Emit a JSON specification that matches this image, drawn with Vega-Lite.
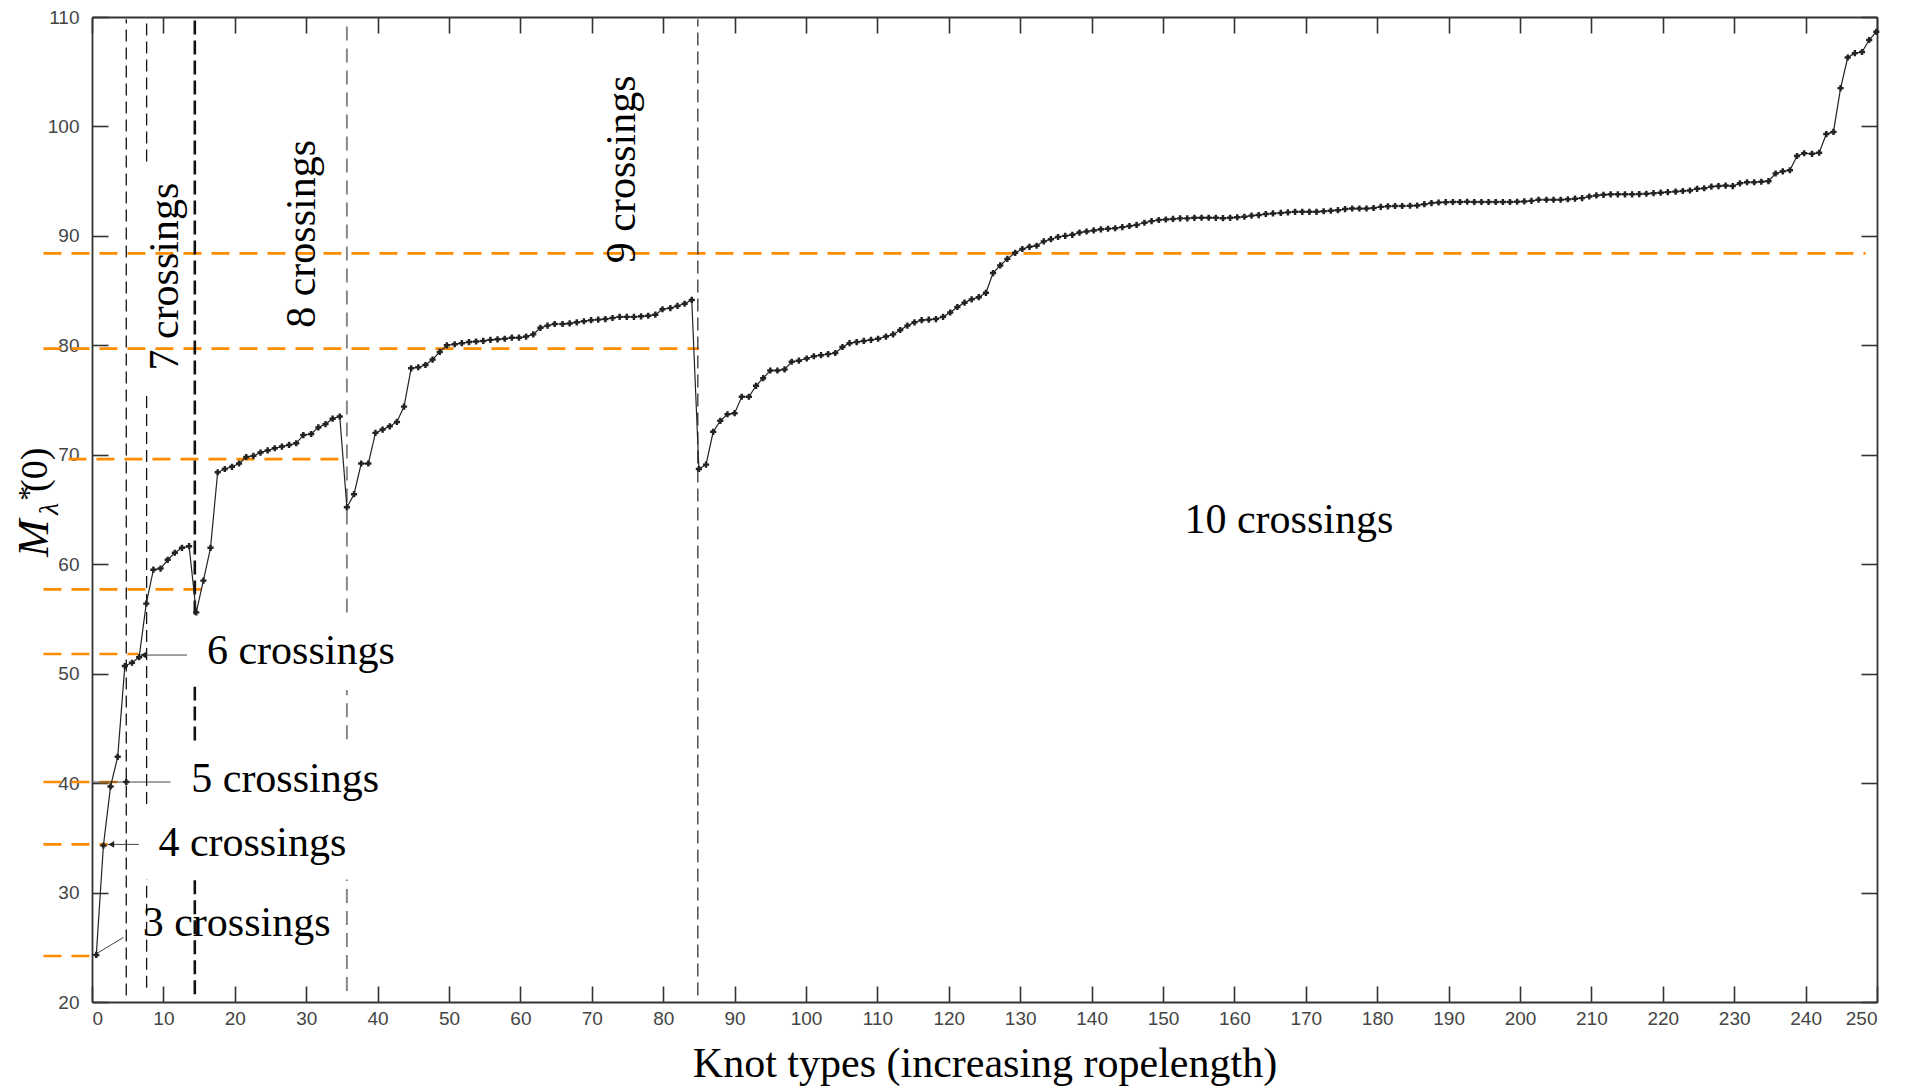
{
  "$schema": "https://vega.github.io/schema/vega-lite/v6.json",
  "width": 1785,
  "height": 985,
  "autosize": {"type": "none"},
  "padding": {"left": 92, "top": 17, "right": 35, "bottom": 86},
  "background": "white",
  "config": {
    "view": {"stroke": null},
    "axis": {
      "grid": false,
      "domainColor": "#333",
      "domainWidth": 1.8,
      "tickColor": "#333",
      "tickWidth": 1.6,
      "tickSize": -16,
      "labelFont": "Liberation Sans",
      "labelFontSize": 19,
      "labelColor": "#444"
    }
  },
  "datasets": {
    "curve": [
      {"x":0.6,"m":24.3},{"x":1.6,"m":34.3},{"x":2.6,"m":39.7},{"x":3.6,"m":42.4},{"x":4.6,"m":50.7},{"x":5.6,"m":51.0},{"x":6.6,"m":51.5},{"x":7.6,"m":56.4},{"x":8.6,"m":59.5},{"x":9.6,"m":59.6},
      {"x":10.6,"m":60.4},{"x":11.6,"m":61.05},{"x":12.6,"m":61.5},{"x":13.6,"m":61.65},{"x":14.6,"m":55.6},{"x":15.6,"m":58.5},{"x":16.6,"m":61.5},{"x":17.6,"m":68.4},{"x":18.6,"m":68.7},{"x":19.6,"m":68.9},
      {"x":20.6,"m":69.2},{"x":21.6,"m":69.8},{"x":22.6,"m":69.9},{"x":23.6,"m":70.2},{"x":24.6,"m":70.4},{"x":25.6,"m":70.6},{"x":26.6,"m":70.75},{"x":27.6,"m":70.9},{"x":28.6,"m":71.05},{"x":29.6,"m":71.8},
      {"x":30.7,"m":71.9},{"x":31.7,"m":72.5},{"x":32.7,"m":72.8},{"x":33.7,"m":73.3},{"x":34.7,"m":73.5},{"x":35.7,"m":65.2},{"x":36.7,"m":66.4},{"x":37.7,"m":69.2},{"x":38.7,"m":69.2},{"x":39.7,"m":72.0},
      {"x":40.7,"m":72.3},{"x":41.7,"m":72.6},{"x":42.7,"m":73.0},{"x":43.7,"m":74.4},{"x":44.7,"m":77.9},{"x":45.7,"m":78.0},{"x":46.7,"m":78.2},{"x":47.7,"m":78.7},{"x":48.7,"m":79.4},{"x":49.7,"m":80.0},
      {"x":50.8,"m":80.1},{"x":51.8,"m":80.2},{"x":52.8,"m":80.3},{"x":53.8,"m":80.35},{"x":54.8,"m":80.4},{"x":55.8,"m":80.5},{"x":56.8,"m":80.55},{"x":57.8,"m":80.6},{"x":58.8,"m":80.7},{"x":59.8,"m":80.7},
      {"x":60.8,"m":80.8},{"x":61.8,"m":81.0},{"x":62.8,"m":81.6},{"x":63.8,"m":81.8},{"x":64.8,"m":81.95},{"x":65.9,"m":81.95},{"x":66.9,"m":82.0},{"x":67.9,"m":82.1},{"x":68.9,"m":82.2},{"x":69.9,"m":82.3},
      {"x":70.9,"m":82.35},{"x":71.9,"m":82.4},{"x":72.9,"m":82.5},{"x":73.9,"m":82.6},{"x":74.9,"m":82.6},{"x":75.9,"m":82.6},{"x":76.9,"m":82.65},{"x":77.9,"m":82.7},{"x":78.9,"m":82.8},{"x":79.9,"m":83.3},
      {"x":81,"m":83.4},{"x":82,"m":83.6},{"x":83,"m":83.8},{"x":84,"m":84.15},{"x":85,"m":68.7},{"x":86,"m":69.1},{"x":87,"m":72.1},{"x":88,"m":73.1},{"x":89,"m":73.7},{"x":90,"m":73.8},
      {"x":91,"m":75.3},{"x":92,"m":75.3},{"x":93,"m":76.3},{"x":94,"m":77.0},{"x":95,"m":77.7},{"x":96,"m":77.7},{"x":97,"m":77.8},{"x":98,"m":78.5},{"x":99,"m":78.6},{"x":100.1,"m":78.8},
      {"x":101.1,"m":79.0},{"x":102.1,"m":79.1},{"x":103.1,"m":79.2},{"x":104.1,"m":79.3},{"x":105.1,"m":79.85},{"x":106.1,"m":80.2},{"x":107.1,"m":80.3},{"x":108.1,"m":80.4},{"x":109.1,"m":80.5},{"x":110.1,"m":80.6},
      {"x":111.2,"m":80.8},{"x":112.2,"m":81.0},{"x":113.2,"m":81.4},{"x":114.2,"m":81.8},{"x":115.2,"m":82.1},{"x":116.2,"m":82.3},{"x":117.2,"m":82.35},{"x":118.2,"m":82.4},{"x":119.2,"m":82.6},{"x":120.2,"m":83.0},
      {"x":121.2,"m":83.5},{"x":122.2,"m":83.9},{"x":123.2,"m":84.2},{"x":124.2,"m":84.4},{"x":125.2,"m":84.8},{"x":126.2,"m":86.6},{"x":127.2,"m":87.3},{"x":128.2,"m":87.9},{"x":129.3,"m":88.45},{"x":130.3,"m":88.8},
      {"x":131.3,"m":89.0},{"x":132.3,"m":89.1},{"x":133.3,"m":89.5},{"x":134.3,"m":89.7},{"x":135.3,"m":89.9},{"x":136.3,"m":90.0},{"x":137.3,"m":90.1},{"x":138.3,"m":90.3},{"x":139.3,"m":90.4},{"x":140.3,"m":90.5},
      {"x":141.3,"m":90.6},{"x":142.3,"m":90.65},{"x":143.3,"m":90.7},{"x":144.3,"m":90.8},{"x":145.3,"m":90.9},{"x":146.3,"m":91.0},{"x":147.4,"m":91.2},{"x":148.4,"m":91.35},{"x":149.4,"m":91.45},{"x":150.4,"m":91.5},
      {"x":151.4,"m":91.55},{"x":152.4,"m":91.6},{"x":153.4,"m":91.6},{"x":154.4,"m":91.65},{"x":155.4,"m":91.66},{"x":156.4,"m":91.66},{"x":157.4,"m":91.65},{"x":158.4,"m":91.62},{"x":159.4,"m":91.65},{"x":160.4,"m":91.7},
      {"x":161.4,"m":91.75},{"x":162.4,"m":91.85},{"x":163.4,"m":91.9},{"x":164.4,"m":92.0},{"x":165.4,"m":92.05},{"x":166.5,"m":92.1},{"x":167.5,"m":92.15},{"x":168.5,"m":92.2},{"x":169.5,"m":92.2},{"x":170.5,"m":92.2},
      {"x":171.5,"m":92.2},{"x":172.5,"m":92.25},{"x":173.5,"m":92.3},{"x":174.5,"m":92.35},{"x":175.5,"m":92.45},{"x":176.5,"m":92.5},{"x":177.5,"m":92.5},{"x":178.5,"m":92.5},{"x":179.5,"m":92.55},{"x":180.5,"m":92.65},
      {"x":181.5,"m":92.7},{"x":182.5,"m":92.73},{"x":183.5,"m":92.73},{"x":184.6,"m":92.75},{"x":185.6,"m":92.78},{"x":186.6,"m":92.9},{"x":187.6,"m":93.0},{"x":188.6,"m":93.05},{"x":189.6,"m":93.08},{"x":190.6,"m":93.1},
      {"x":191.6,"m":93.1},{"x":192.6,"m":93.12},{"x":193.6,"m":93.1},{"x":194.6,"m":93.1},{"x":195.6,"m":93.1},{"x":196.6,"m":93.1},{"x":197.6,"m":93.1},{"x":198.6,"m":93.1},{"x":199.6,"m":93.12},{"x":200.6,"m":93.15},
      {"x":201.6,"m":93.2},{"x":202.6,"m":93.3},{"x":203.7,"m":93.3},{"x":204.7,"m":93.3},{"x":205.7,"m":93.3},{"x":206.7,"m":93.35},{"x":207.7,"m":93.4},{"x":208.7,"m":93.45},{"x":209.7,"m":93.6},{"x":210.7,"m":93.7},
      {"x":211.7,"m":93.75},{"x":212.7,"m":93.8},{"x":213.7,"m":93.8},{"x":214.7,"m":93.8},{"x":215.7,"m":93.8},{"x":216.7,"m":93.82},{"x":217.7,"m":93.85},{"x":218.7,"m":93.9},{"x":219.7,"m":93.95},{"x":220.7,"m":94.0},
      {"x":221.8,"m":94.05},{"x":222.8,"m":94.1},{"x":223.8,"m":94.15},{"x":224.8,"m":94.3},{"x":225.8,"m":94.35},{"x":226.8,"m":94.5},{"x":227.8,"m":94.55},{"x":228.8,"m":94.6},{"x":229.8,"m":94.55},{"x":230.8,"m":94.8},
      {"x":231.8,"m":94.9},{"x":232.8,"m":94.9},{"x":233.8,"m":94.95},{"x":234.8,"m":95.0},{"x":235.8,"m":95.7},{"x":236.8,"m":95.9},{"x":237.8,"m":96.0},{"x":238.8,"m":97.3},{"x":239.8,"m":97.55},{"x":240.9,"m":97.5},
      {"x":241.9,"m":97.6},{"x":242.9,"m":99.3},{"x":243.9,"m":99.5},{"x":244.9,"m":103.5},{"x":245.9,"m":106.3},{"x":246.9,"m":106.7},{"x":247.9,"m":106.8},{"x":248.9,"m":107.9},{"x":249.9,"m":108.65}
    ],
    "orange": [
      {"y":24.2,"x1":-6.8,"x2":0},
      {"y":34.4,"x1":-6.8,"x2":2.2},
      {"y":40.1,"x1":-6.8,"x2":3.7},
      {"y":51.8,"x1":-6.8,"x2":6.5},
      {"y":57.7,"x1":-6.8,"x2":15.5},
      {"y":69.6,"x1":-3.3,"x2":35.5},
      {"y":79.7,"x1":-6.8,"x2":85},
      {"y":88.4,"x1":-6.8,"x2":248.4}
    ],
    "vlines": [
      {"x":4.8,"y1":20.6,"y2":109.8,"s":"a"},
      {"x":7.65,"y1":96.8,"y2":109.8,"s":"a"},
      {"x":7.65,"y1":38.1,"y2":75.5,"s":"a"},
      {"x":7.65,"y1":21.3,"y2":31.2,"s":"a"},
      {"x":14.4,"y1":55.4,"y2":109.8,"s":"b"},
      {"x":14.4,"y1":43.9,"y2":48.8,"s":"b"},
      {"x":14.4,"y1":20.7,"y2":31.2,"s":"b"},
      {"x":35.7,"y1":55.6,"y2":109.8,"s":"c"},
      {"x":35.7,"y1":44,"y2":48.5,"s":"c"},
      {"x":35.7,"y1":21,"y2":31.2,"s":"c"},
      {"x":84.85,"y1":20.6,"y2":109.8,"s":"d"}
    ],
    "leaders": [
      {"x1":0.7,"y1":24.45,"x2":4.4,"y2":25.9},
      {"x1":2.2,"y1":34.4,"x2":6.55,"y2":34.4},
      {"x1":0.2,"y1":40.1,"x2":11.0,"y2":40.1},
      {"x1":6.8,"y1":51.7,"x2":13.3,"y2":51.7}
    ],
    "arrows": [
      {"x":2.7,"y":34.4},
      {"x":7.2,"y":51.7}
    ],
    "hlabels": [
      {"x":7.1,"y":27.25,"t":"3 crossings"},
      {"x":9.3,"y":34.5,"t":"4 crossings"},
      {"x":13.9,"y":40.4,"t":"5 crossings"},
      {"x":16.1,"y":52.1,"t":"6 crossings"},
      {"x":153.0,"y":64.0,"t":"10 crossings"}
    ],
    "vlabels": [
      {"x":12.0,"y":77.7,"t":"7 crossings"},
      {"x":31.3,"y":81.6,"t":"8 crossings"},
      {"x":76.0,"y":87.5,"t":"9 crossings"}
    ]
  },
  "layer": [
    {
      "data": {"name": "orange"},
      "mark": {"type": "rule", "color": "#FF8C00", "strokeWidth": 2.6, "strokeDash": [18, 10]},
      "encoding": {
        "y": {"field": "y", "type": "quantitative", "scale": {"domain": [20, 110], "nice": false, "zero": false}, "axis": null},
        "x": {"field": "x1", "type": "quantitative", "scale": {"domain": [0, 250], "nice": false, "zero": false}, "axis": null},
        "x2": {"field": "x2"}
      }
    },
    {
      "data": {"name": "vlines"},
      "transform": [{"filter": "datum.s === 'a'"}],
      "mark": {"type": "rule", "color": "#111", "strokeWidth": 1.3, "strokeDash": [12, 6]},
      "encoding": {
        "x": {"field": "x", "type": "quantitative", "scale": {"domain": [0, 250], "nice": false, "zero": false}, "axis": null},
        "y": {"field": "y1", "type": "quantitative", "scale": {"domain": [20, 110], "nice": false, "zero": false}, "axis": null},
        "y2": {"field": "y2"}
      }
    },
    {
      "data": {"name": "vlines"},
      "transform": [{"filter": "datum.s === 'b'"}],
      "mark": {"type": "rule", "color": "#111", "strokeWidth": 2.6, "strokeDash": [14, 6]},
      "encoding": {
        "x": {"field": "x", "type": "quantitative", "scale": {"domain": [0, 250], "nice": false, "zero": false}, "axis": null},
        "y": {"field": "y1", "type": "quantitative", "scale": {"domain": [20, 110], "nice": false, "zero": false}, "axis": null},
        "y2": {"field": "y2"}
      }
    },
    {
      "data": {"name": "vlines"},
      "transform": [{"filter": "datum.s === 'c'"}],
      "mark": {"type": "rule", "color": "#888", "strokeWidth": 2, "strokeDash": [14, 8]},
      "encoding": {
        "x": {"field": "x", "type": "quantitative", "scale": {"domain": [0, 250], "nice": false, "zero": false}, "axis": null},
        "y": {"field": "y1", "type": "quantitative", "scale": {"domain": [20, 110], "nice": false, "zero": false}, "axis": null},
        "y2": {"field": "y2"}
      }
    },
    {
      "data": {"name": "vlines"},
      "transform": [{"filter": "datum.s === 'd'"}],
      "mark": {"type": "rule", "color": "#333", "strokeWidth": 1.3, "strokeDash": [13, 6]},
      "encoding": {
        "x": {"field": "x", "type": "quantitative", "scale": {"domain": [0, 250], "nice": false, "zero": false}, "axis": null},
        "y": {"field": "y1", "type": "quantitative", "scale": {"domain": [20, 110], "nice": false, "zero": false}, "axis": null},
        "y2": {"field": "y2"}
      }
    },
    {
      "data": {"name": "leaders"},
      "mark": {"type": "rule", "color": "#444", "strokeWidth": 1},
      "encoding": {
        "x": {"field": "x1", "type": "quantitative", "scale": {"domain": [0, 250], "nice": false, "zero": false}, "axis": null},
        "y": {"field": "y1", "type": "quantitative", "scale": {"domain": [20, 110], "nice": false, "zero": false}, "axis": null},
        "x2": {"field": "x2"},
        "y2": {"field": "y2"}
      }
    },
    {
      "data": {"name": "curve"},
      "mark": {"type": "line", "color": "#222", "strokeWidth": 1.2},
      "encoding": {
        "x": {
          "field": "x", "type": "quantitative",
          "scale": {"domain": [0, 250], "nice": false, "zero": false},
          "axis": {
            "orient": "bottom",
            "values": [0,10,20,30,40,50,60,70,80,90,100,110,120,130,140,150,160,170,180,190,200,210,220,230,240,250],
            "title": "Knot types (increasing ropelength)",
            "titleFont": "Liberation Serif",
            "titleFontSize": 42,
            "titleFontWeight": "normal",
            "titleColor": "#000",
            "titlePadding": 15,
            "labelPadding": 23
          }
        },
        "y": {
          "field": "m", "type": "quantitative",
          "scale": {"domain": [20, 110], "nice": false, "zero": false},
          "axis": {
            "orient": "left",
            "values": [20,30,40,50,60,70,80,90,100,110],
            "title": null,
            "labelPadding": 29
          }
        }
      }
    },
    {
      "data": {"name": "curve"},
      "mark": {"type": "point", "shape": "cross", "filled": true, "color": "#222", "size": 38, "opacity": 1},
      "encoding": {
        "x": {
          "field": "x", "type": "quantitative",
          "scale": {"domain": [0, 250], "nice": false, "zero": false},
          "axis": {"orient": "top", "values": [0,10,20,30,40,50,60,70,80,90,100,110,120,130,140,150,160,170,180,190,200,210,220,230,240,250], "labels": false, "title": null}
        },
        "y": {
          "field": "m", "type": "quantitative",
          "scale": {"domain": [20, 110], "nice": false, "zero": false},
          "axis": {"orient": "right", "values": [20,30,40,50,60,70,80,90,100,110], "labels": false, "title": null}
        }
      }
    },
    {
      "data": {"name": "arrows"},
      "mark": {"type": "point", "shape": "triangle-left", "filled": true, "color": "#222", "size": 45, "opacity": 1},
      "encoding": {
        "x": {"field": "x", "type": "quantitative", "scale": {"domain": [0, 250], "nice": false, "zero": false}, "axis": null},
        "y": {"field": "y", "type": "quantitative", "scale": {"domain": [20, 110], "nice": false, "zero": false}, "axis": null}
      }
    },
    {
      "data": {"values": [{"x": 4.8, "y": 40.1}]},
      "mark": {"type": "point", "shape": "cross", "filled": true, "color": "#222", "size": 38, "opacity": 1},
      "encoding": {
        "x": {"field": "x", "type": "quantitative", "scale": {"domain": [0, 250], "nice": false, "zero": false}, "axis": null},
        "y": {"field": "y", "type": "quantitative", "scale": {"domain": [20, 110], "nice": false, "zero": false}, "axis": null}
      }
    },
    {
      "data": {"name": "hlabels"},
      "mark": {"type": "text", "font": "Liberation Serif", "fontSize": 42, "color": "#000", "align": "left", "baseline": "middle"},
      "encoding": {
        "x": {"field": "x", "type": "quantitative", "scale": {"domain": [0, 250], "nice": false, "zero": false}, "axis": null},
        "y": {"field": "y", "type": "quantitative", "scale": {"domain": [20, 110], "nice": false, "zero": false}, "axis": null},
        "text": {"field": "t"}
      }
    },
    {
      "data": {"name": "vlabels"},
      "mark": {"type": "text", "font": "Liberation Serif", "fontSize": 42, "color": "#000", "align": "left", "baseline": "alphabetic", "angle": 270},
      "encoding": {
        "x": {"field": "x", "type": "quantitative", "scale": {"domain": [0, 250], "nice": false, "zero": false}, "axis": null},
        "y": {"field": "y", "type": "quantitative", "scale": {"domain": [20, 110], "nice": false, "zero": false}, "axis": null},
        "text": {"field": "t"}
      }
    },
    {
      "data": {"values": [{"x": -6.12, "y": 60.66, "t": "M"}]},
      "mark": {"type": "text", "font": "Liberation Serif", "fontStyle": "italic", "fontSize": 45, "color": "#000", "align": "left", "baseline": "alphabetic", "angle": 270},
      "encoding": {
        "x": {"field": "x", "type": "quantitative", "scale": {"domain": [0, 250], "nice": false, "zero": false}, "axis": null},
        "y": {"field": "y", "type": "quantitative", "scale": {"domain": [20, 110], "nice": false, "zero": false}, "axis": null},
        "text": {"field": "t"}
      }
    },
    {
      "data": {"values": [{"x": -4.8, "y": 64.5, "t": "λ"}]},
      "mark": {"type": "text", "font": "Liberation Serif", "fontStyle": "italic", "fontSize": 28, "color": "#000", "align": "left", "baseline": "alphabetic", "angle": 270},
      "encoding": {
        "x": {"field": "x", "type": "quantitative", "scale": {"domain": [0, 250], "nice": false, "zero": false}, "axis": null},
        "y": {"field": "y", "type": "quantitative", "scale": {"domain": [20, 110], "nice": false, "zero": false}, "axis": null},
        "text": {"field": "t"}
      }
    },
    {
      "data": {"values": [{"x": -7.6, "y": 65.8, "t": "*"}]},
      "mark": {"type": "text", "font": "Liberation Serif", "fontSize": 30, "color": "#000", "align": "left", "baseline": "alphabetic", "angle": 270},
      "encoding": {
        "x": {"field": "x", "type": "quantitative", "scale": {"domain": [0, 250], "nice": false, "zero": false}, "axis": null},
        "y": {"field": "y", "type": "quantitative", "scale": {"domain": [20, 110], "nice": false, "zero": false}, "axis": null},
        "text": {"field": "t"}
      }
    },
    {
      "data": {"values": [{"x": -6.25, "y": 66.6, "t": "(0)"}]},
      "mark": {"type": "text", "font": "Liberation Serif", "fontSize": 38, "color": "#000", "align": "left", "baseline": "alphabetic", "angle": 270},
      "encoding": {
        "x": {"field": "x", "type": "quantitative", "scale": {"domain": [0, 250], "nice": false, "zero": false}, "axis": null},
        "y": {"field": "y", "type": "quantitative", "scale": {"domain": [20, 110], "nice": false, "zero": false}, "axis": null},
        "text": {"field": "t"}
      }
    }
  ],
  "resolve": {"axis": {"x": "independent", "y": "independent"}}
}
